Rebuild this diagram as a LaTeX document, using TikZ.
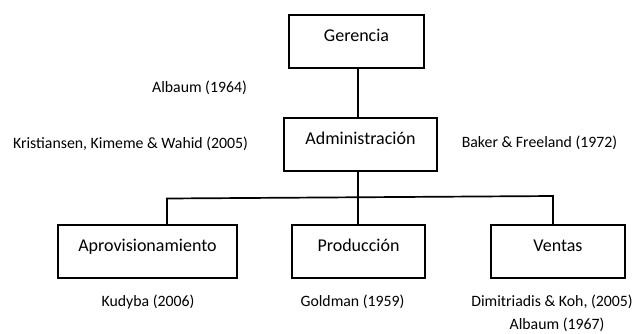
\documentclass[tikz,border=0pt]{standalone}
\usepackage{fontspec}
\setmainfont{Carlito}
\begin{document}
\begin{tikzpicture}[x=1pt,y=-1pt]

\tikzstyle{unit}=[draw,line width=1.7pt,minimum height=53pt,inner sep=0pt,font=\fontsize{18}{20}\selectfont,text height=12pt,text depth=12pt]
\tikzstyle{link} = [draw,line width=1.7pt,-]
\tikzstyle{cite} = [font=\fontsize{15.8}{18}\selectfont,inner sep=0pt]

\useasboundingbox (0,0) rectangle (637,333);

\node[unit,minimum width=135pt] (ger) at (356.5,41.5) {Gerencia};
\node[unit,minimum width=153pt] (adm) at (360.5,144.5) {Administración};

\foreach \name/\x/\w/\txt in {apr/147.5/179/Aprovisionamiento, pro/358.5/133/Producción, ven/558/134/Ventas}
{
  \node[unit,minimum width=\w pt] (\name) at (\x,251.5) {\txt};
}

% tree lines
\coordinate (trunk) at (358,197);
\coordinate (jl) at (167,198.5);
\coordinate (jr) at (553,196);
\path[link] (ger.south -| trunk) -- (adm.north -| trunk);
\path[link] (adm.south -| trunk) -- (pro.north -| trunk);
\path[link] (apr.north -| jl) -- (jl) -- (jr) -- (ven.north -| jr);

\foreach \name/\x/\y/\txt in {c1/199.5/88/Albaum (1964), c2/130.5/144/{Kristiansen, Kimeme \& Wahid (2005)}, c3/539.5/143/Baker \& Freeland (1972), c4/148/302/Kudyba (2006), c5/352.5/302/Goldman (1959), c6/552/302/{Dimitriadis \& Koh, (2005)}, c7/557/325/Albaum (1967)}
{
  \node[cite] (\name) at (\x,\y) {\txt};
}
\end{tikzpicture}
\end{document}
